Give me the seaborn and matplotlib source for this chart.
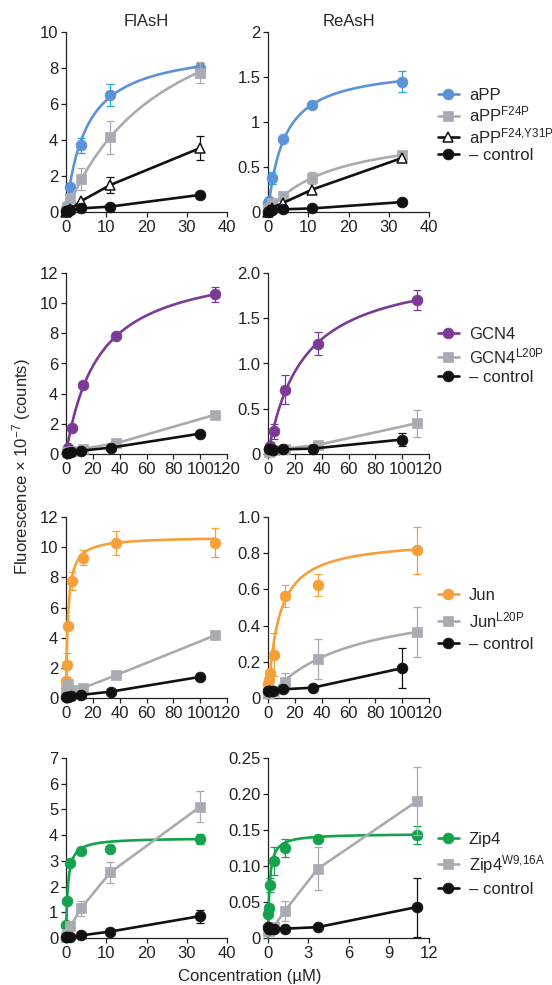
import numpy as np
import pandas as pd
import matplotlib
matplotlib.use("Agg")
import matplotlib.pyplot as plt
from matplotlib.lines import Line2D
import seaborn as sns

# ---------------- data ----------------
# Row 1: aPP  (FlAsH left, ReAsH right)
app_conc = [0.12, 0.37, 1.1, 3.7, 11, 33.3]
fl_app = [0.1, 0.35, 1.4, 3.7, 6.5, 8.0]
fl_app_err = [0, 0, 0, 0.4, 0.6, 0.3]
fl_app_f24p = [0.05, 0.3, 0.8, 1.85, 4.15, 7.75]
fl_app_f24p_err = [0, 0, 0, 0.6, 0.9, 0.6]
fl_app_f24y31p = [0.0, 0.05, 0.15, 0.6, 1.5, 3.55]
fl_app_f24y31p_err = [0, 0, 0, 0, 0.45, 0.65]
fl_app_ctrl = [0.05, 0.05, 0.1, 0.2, 0.3, 0.95]
fl_app_ctrl_err = [0, 0, 0, 0, 0, 0]
re_app = [0.1, 0.12, 0.38, 0.81, 1.19, 1.45]
re_app_err = [0, 0, 0.07, 0, 0, 0.12]
re_app_f24p = [0.02, 0.05, 0.1, 0.18, 0.38, 0.63]
re_app_f24p_err = [0, 0, 0, 0, 0.07, 0.03]
re_app_f24y31p = [0.0, 0.02, 0.05, 0.1, 0.25, 0.6]
re_app_f24y31p_err = [0, 0, 0, 0, 0, 0]
re_app_ctrl = [0.0, 0.01, 0.02, 0.03, 0.04, 0.11]
re_app_ctrl_err = [0, 0, 0, 0, 0, 0.03]

# Row 2: GCN4
gcn_conc = [0.46, 1.37, 4.1, 12.3, 37, 111]
ctrl_conc = [0.4, 1.2, 3.7, 11, 33.3, 100]
fl_gcn = [0.1, 0.4, 1.7, 4.55, 7.8, 10.6]
fl_gcn_err = [0, 0, 0, 0, 0, 0.5]
fl_gcn_l20p = [0.1, 0.15, 0.2, 0.35, 0.7, 2.6]
fl_gcn_l20p_err = [0, 0, 0, 0, 0, 0]
fl_gcn_ctrl = [0.05, 0.05, 0.1, 0.22, 0.42, 1.35]
fl_gcn_ctrl_err = [0, 0, 0, 0, 0, 0]
re_gcn = [0.05, 0.09, 0.25, 0.71, 1.22, 1.70]
re_gcn_err = [0, 0, 0.08, 0.16, 0.13, 0.11]
re_gcn_l20p = [0.02, 0.03, 0.04, 0.06, 0.1, 0.34]
re_gcn_l20p_err = [0, 0, 0, 0, 0, 0.15]
re_gcn_ctrl = [0.05, 0.05, 0.04, 0.05, 0.06, 0.16]
re_gcn_ctrl_err = [0, 0, 0, 0, 0, 0.07]

# Row 3: Jun
jun_conc = [0.15, 0.46, 1.37, 4.1, 12.3, 37, 111]
jun_ctrl_conc = [0.13, 0.4, 1.2, 3.7, 11, 33.3, 100]
fl_jun = [1.1, 2.2, 4.8, 7.75, 9.3, 10.25, 10.3]
fl_jun_err = [0, 0.8, 0, 0.6, 0.5, 0.8, 0.95]
fl_jun_l20p = [0.5, 0.6, 0.95, 0.5, 0.65, 1.5, 4.15]
fl_jun_l20p_err = [0, 0, 0, 0, 0, 0, 0]
fl_jun_ctrl = [0.05, 0.05, 0.05, 0.1, 0.2, 0.42, 1.4]
fl_jun_ctrl_err = [0, 0, 0, 0, 0, 0, 0]
re_jun = [0.08, 0.1, 0.14, 0.24, 0.565, 0.625, 0.815]
re_jun_err = [0, 0, 0, 0.12, 0.06, 0.06, 0.13]
re_jun_l20p = [0.03, 0.03, 0.04, 0.04, 0.09, 0.215, 0.365]
re_jun_l20p_err = [0, 0, 0, 0, 0.05, 0.11, 0.14]
re_jun_ctrl = [0.04, 0.04, 0.04, 0.04, 0.048, 0.057, 0.165]
re_jun_ctrl_err = [0, 0, 0, 0, 0, 0, 0.11]

# Row 4: Zip4
zip_fl_conc = [0.12, 0.37, 1.1, 3.7, 11, 33.3]
fl_zip = [0.5, 1.45, 2.9, 3.4, 3.45, 3.85]
fl_zip_err = [0, 0, 0, 0, 0, 0.2]
fl_zip_w916a = [0.05, 0.15, 0.45, 1.15, 2.55, 5.1]
fl_zip_w916a_err = [0, 0, 0, 0.3, 0.4, 0.6]
fl_zip_ctrl = [0.05, 0.05, 0.05, 0.1, 0.25, 0.85]
fl_zip_ctrl_err = [0, 0, 0, 0, 0, 0.25]
zip_re_conc = [0.015, 0.046, 0.14, 0.41, 1.23, 3.7, 11.1]
re_zip = [0.033, 0.042, 0.074, 0.107, 0.125, 0.138, 0.143]
re_zip_err = [0.003, 0.005, 0.01, 0.02, 0.012, 0.003, 0.012]
re_zip_w916a = [0.01, 0.01, 0.012, 0.015, 0.037, 0.096, 0.19]
re_zip_w916a_err = [0, 0, 0, 0, 0.014, 0.03, 0.047]
re_zip_ctrl = [0.015, 0.012, 0.012, 0.012, 0.013, 0.015, 0.043]
re_zip_ctrl_err = [0, 0, 0, 0, 0, 0, 0.041]

# binding-fit parameters (Bmax, Kd)
fit_fl_app = (9.3, 5.0)
fit_fl_app_f24p = (13.7, 25.2)
fit_re_app = (1.63, 4.0)
fit_re_app_f24p = (0.94, 16.2)
fit_fl_gcn = (12.9, 24.3)
fit_re_gcn = (2.10, 26.2)
fit_fl_jun = (10.7, 1.5)
fit_re_jun = (0.88, 8.0)
fit_re_jun_l20p = (0.56, 59.5)
fit_fl_zip = (3.9, 0.45)
fit_re_zip = (0.145, 0.12)

titles = ["FlAsH", "ReAsH"]
legend_labels = [
    ["aPP", "aPP$^{\\mathrm{F24P}}$", "aPP$^{\\mathrm{F24{,}Y31P}}$", "– control"],
    ["GCN4", "GCN4$^{\\mathrm{L20P}}$", "– control"],
    ["Jun", "Jun$^{\\mathrm{L20P}}$", "– control"],
    ["Zip4", "Zip4$^{\\mathrm{W9{,}16A}}$", "– control"],
]

# ---------------- style ----------------
sns.set_style("ticks")
plt.rcParams["font.family"] = ["Liberation Sans", "DejaVu Sans"]
plt.rcParams["mathtext.fontset"] = "custom"
plt.rcParams["mathtext.rm"] = "Liberation Sans"
plt.rcParams["mathtext.it"] = "Liberation Sans:italic"
plt.rcParams["mathtext.bf"] = "Liberation Sans:bold"
plt.rcParams["axes.linewidth"] = 0.9

BLUE = "#5b92d8"
BLUE_ERR = "#22a6e0"
GRAY = "#a8abb1"
BLACK = "#111111"
PURPLE = "#7b3a96"
ORANGE = "#f5a03a"
GREEN = "#14a24c"

FS = 12

FW, FH = 552, 985
fig = plt.figure(figsize=(FW / 100, FH / 100), dpi=100)


def add_ax(left, right, top, bottom):
    return fig.add_axes([left / FW, 1 - bottom / FH, (right - left) / FW, (bottom - top) / FH])


LW = 1.9
MS = 7.8


def series(ax, x, y, err, color, marker, ecolor=None, fit=None, mfc=None, z=3):
    x = np.asarray(x, float)
    y = np.asarray(y, float)
    err = np.asarray(err, float)
    if fit is not None:
        bmax, kd = fit
        grid = np.linspace(0, x.max(), 300)
        curve = pd.DataFrame({"x": grid, "y": bmax * grid / (kd + grid)})
        sns.lineplot(data=curve, x="x", y="y", ax=ax, color=color, lw=LW,
                     errorbar=None, sort=False, zorder=z, clip_on=False)
    else:
        df = pd.DataFrame({"x": x, "y": y})
        sns.lineplot(data=df, x="x", y="y", ax=ax, color=color, lw=LW,
                     errorbar=None, sort=False, zorder=z, clip_on=False)
    m = err > 0
    if m.any():
        ax.errorbar(x[m], y[m], yerr=err[m], fmt="none", ecolor=ecolor or color,
                    elinewidth=0.9, capsize=2.8, capthick=0.9, zorder=z + 0.1, clip_on=False)
    face = mfc if mfc is not None else color
    ax.plot(x, y, linestyle="none", marker=marker, ms=MS if marker != "^" else 7.0,
            mfc=face, mec=color, mew=1.1 if mfc is not None else 0.5,
            zorder=z + 0.2, clip_on=False)


def style_ax(ax, xmax, xticks, ymax, yticks, ylabels):
    ax.set_xlim(0, xmax)
    ax.set_ylim(0, ymax)
    ax.set_xticks(xticks)
    ax.set_xticklabels([str(t) for t in xticks])
    ax.set_yticks(yticks)
    ax.set_yticklabels(ylabels)
    ax.set_xlabel("")
    ax.set_ylabel("")
    sns.despine(ax=ax)
    ax.tick_params(labelsize=FS, length=3.5, width=0.9, pad=2, colors="#222222")
    for s in ["left", "bottom"]:
        ax.spines[s].set_color("#222222")


def legend(ax, handles, labels, x, y, spacing):
    ax.legend(handles, labels, loc="upper left", bbox_to_anchor=(x / FW, 1 - y / FH),
              bbox_transform=fig.transFigure, frameon=False, fontsize=FS,
              handlelength=1.25, handletextpad=0.6, labelspacing=spacing,
              borderpad=0, borderaxespad=0)


def h(color, marker, mfc=None):
    return Line2D([0], [0], color=color, lw=LW, marker=marker,
                  ms=MS if marker != "^" else 7.0, mfc=mfc if mfc else color,
                  mec=color, mew=1.1 if mfc else 0.5)


colL = (66, 227)
colR = (268, 429)
rows = [(32, 212), (273, 454), (517, 698), (758, 938)]

# ---- Row 1 ----
ax = add_ax(colL[0], colL[1], *rows[0])
series(ax, app_conc, fl_app, fl_app_err, BLUE, "o", ecolor=BLUE_ERR, fit=fit_fl_app, z=3)
series(ax, app_conc, fl_app_f24p, fl_app_f24p_err, GRAY, "s", fit=fit_fl_app_f24p, z=4)
series(ax, app_conc, fl_app_f24y31p, fl_app_f24y31p_err, BLACK, "^", mfc="white", z=5)
series(ax, app_conc, fl_app_ctrl, fl_app_ctrl_err, BLACK, "o", z=6)
style_ax(ax, 40, [0, 10, 20, 30, 40], 10, [0, 2, 4, 6, 8, 10], ["0", "2", "4", "6", "8", "10"])
ax.set_title(titles[0], fontsize=FS, pad=4)

ax = add_ax(colR[0], colR[1], *rows[0])
series(ax, app_conc, re_app, re_app_err, BLUE, "o", ecolor=BLUE_ERR, fit=fit_re_app, z=3)
series(ax, app_conc, re_app_f24p, re_app_f24p_err, GRAY, "s", fit=fit_re_app_f24p, z=4)
series(ax, app_conc, re_app_f24y31p, re_app_f24y31p_err, BLACK, "^", mfc="white", z=5)
series(ax, app_conc, re_app_ctrl, re_app_ctrl_err, BLACK, "o", z=6)
style_ax(ax, 40, [0, 10, 20, 30, 40], 2, [0, 0.5, 1, 1.5, 2], ["0", "0.5", "1", "1.5", "2"])
ax.set_title(titles[1], fontsize=FS, pad=4)
legend(ax, [h(BLUE, "o"), h(GRAY, "s"), h(BLACK, "^", "white"), h(BLACK, "o")],
       legend_labels[0], 438, 88, 0.1)

# ---- Row 2 ----
ax = add_ax(colL[0], colL[1], *rows[1])
series(ax, gcn_conc, fl_gcn, fl_gcn_err, PURPLE, "o", fit=fit_fl_gcn, z=3)
series(ax, gcn_conc, fl_gcn_l20p, fl_gcn_l20p_err, GRAY, "s", z=4)
series(ax, ctrl_conc, fl_gcn_ctrl, fl_gcn_ctrl_err, BLACK, "o", z=5)
style_ax(ax, 120, [0, 20, 40, 60, 80, 100, 120], 12, [0, 2, 4, 6, 8, 10, 12],
         ["0", "2", "4", "6", "8", "10", "12"])

ax = add_ax(colR[0], colR[1], *rows[1])
series(ax, gcn_conc, re_gcn, re_gcn_err, PURPLE, "o", fit=fit_re_gcn, z=3)
series(ax, gcn_conc, re_gcn_l20p, re_gcn_l20p_err, GRAY, "s", z=4)
series(ax, ctrl_conc, re_gcn_ctrl, re_gcn_ctrl_err, BLACK, "o", z=5)
style_ax(ax, 120, [0, 20, 40, 60, 80, 100, 120], 2, [0, 0.5, 1, 1.5, 2],
         ["0", "0.5", "1.0", "1.5", "2.0"])
legend(ax, [h(PURPLE, "o"), h(GRAY, "s"), h(BLACK, "o")], legend_labels[1], 438, 327, 0.25)

# ---- Row 3 ----
ax = add_ax(colL[0], colL[1], *rows[2])
series(ax, jun_conc, fl_jun, fl_jun_err, ORANGE, "o", fit=fit_fl_jun, z=3)
series(ax, jun_conc, fl_jun_l20p, fl_jun_l20p_err, GRAY, "s", z=4)
series(ax, jun_ctrl_conc, fl_jun_ctrl, fl_jun_ctrl_err, BLACK, "o", z=5)
style_ax(ax, 120, [0, 20, 40, 60, 80, 100, 120], 12, [0, 2, 4, 6, 8, 10, 12],
         ["0", "2", "4", "6", "8", "10", "12"])

ax = add_ax(colR[0], colR[1], *rows[2])
series(ax, jun_conc, re_jun, re_jun_err, ORANGE, "o", fit=fit_re_jun, z=3)
series(ax, jun_conc, re_jun_l20p, re_jun_l20p_err, GRAY, "s", fit=fit_re_jun_l20p, z=4)
series(ax, jun_ctrl_conc, re_jun_ctrl, re_jun_ctrl_err, BLACK, "o", z=5)
style_ax(ax, 120, [0, 20, 40, 60, 80, 100, 120], 1.0, [0, 0.2, 0.4, 0.6, 0.8, 1.0],
         ["0", "0.2", "0.4", "0.6", "0.8", "1.0"])
legend(ax, [h(ORANGE, "o"), h(GRAY, "s"), h(BLACK, "o")], legend_labels[2], 438, 588, 0.42)

# ---- Row 4 ----
ax = add_ax(colL[0], colL[1], *rows[3])
series(ax, zip_fl_conc, fl_zip, fl_zip_err, GREEN, "o", fit=fit_fl_zip, z=3)
series(ax, zip_fl_conc, fl_zip_w916a, fl_zip_w916a_err, GRAY, "s", z=4)
series(ax, zip_fl_conc, fl_zip_ctrl, fl_zip_ctrl_err, BLACK, "o", z=5)
style_ax(ax, 40, [0, 10, 20, 30, 40], 7, [0, 1, 2, 3, 4, 5, 6, 7],
         ["0", "1", "2", "3", "4", "5", "6", "7"])

ax = add_ax(colR[0], colR[1], *rows[3])
series(ax, zip_re_conc, re_zip, re_zip_err, GREEN, "o", fit=fit_re_zip, z=3)
series(ax, zip_re_conc, re_zip_w916a, re_zip_w916a_err, GRAY, "s", z=4)
series(ax, zip_re_conc, re_zip_ctrl, re_zip_ctrl_err, BLACK, "o", z=5)
style_ax(ax, 12, [0, 3, 6, 9, 12], 0.25, [0, 0.05, 0.10, 0.15, 0.20, 0.25],
         ["0", "0.05", "0.10", "0.15", "0.20", "0.25"])
legend(ax, [h(GREEN, "o"), h(GRAY, "s"), h(BLACK, "o")], legend_labels[3], 438, 832, 0.35)

# ---- shared labels ----
fig.text(22 / FW, 1 - 467 / FH, "Fluorescence × 10$^{-7}$ (counts)", rotation=90,
         ha="center", va="center", fontsize=FS)
fig.text(250 / FW, 1 - 976 / FH, "Concentration (µM)", ha="center", va="center", fontsize=FS)

fig.savefig("out.png", dpi=100)
